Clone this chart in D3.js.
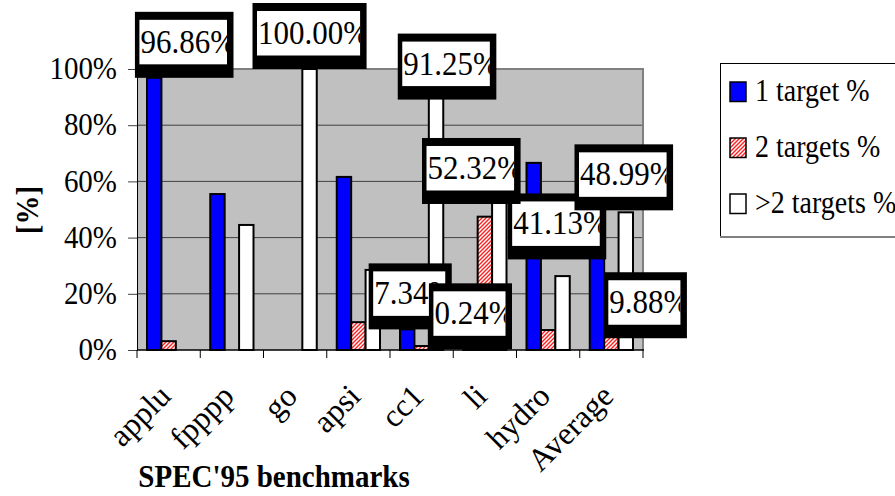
<!DOCTYPE html>
<html>
<head>
<meta charset="utf-8">
<script src="https://cdn.jsdelivr.net/npm/d3@7"></script>
<style>
  body { margin: 0; background: #fff; }
  text { font-family: "Liberation Serif", "Times New Roman", serif; fill: #000; }
</style>
</head>
<body>
<svg id="chart" width="895" height="496"></svg>
<script>
// Share of branches by number of targets, per SPEC'95 benchmark
const categories = ["applu", "fpppp", "go", "apsi", "cc1", "li", "hydro", "Average"];
const seriesNames = ["1 target %", "2 targets %", ">2 targets %"];
const oneTarget   = [96.86, 55.5, 0, 61.6, 7.34, 0.24, 66.6, 41.13];
const twoTargets  = [3.14, 0, 0, 9.9, 1.41, 47.44, 7.1, 9.88];
const moreTargets = [0, 44.5, 100.00, 28.5, 91.25, 52.32, 26.3, 48.99];
const yTicks = [0, 20, 40, 60, 80, 100];

// bars that carry a value callout, and how far each callout was dragged
const valueLabels = [
  { s: 0, c: "applu",   dx: 30,  dy: 0 },
  { s: 0, c: "cc1",     dx: 3,   dy: 0 },
  { s: 0, c: "li",      dx: 0,   dy: 0 },
  { s: 0, c: "Average", dx: -40, dy: 25 },
  { s: 1, c: "Average", dx: 34,  dy: 16 },
  { s: 2, c: "go",      dx: 0,   dy: 0 },
  { s: 2, c: "cc1",     dx: 11,  dy: 6 },
  { s: 2, c: "li",      dx: -28, dy: 1 },
  { s: 2, c: "Average", dx: -2,  dy: -2 }
];

const series = [oneTarget, twoTargets, moreTargets];
const fills = ["#0000ff", "url(#hatch)", "#ffffff"];
const stretch = "scale(1,1.12)";

const svg = d3.select("#chart");
const plot = { left: 137, right: 643, top: 69, bottom: 350 };

const x = d3.scaleBand().domain(categories).range([plot.left, plot.right]);
const xs = d3.scaleBand().domain([0, 1, 2]).range([10, x.bandwidth() - 10]);
const y = d3.scaleLinear().domain([0, 100]).range([plot.bottom, plot.top]);

// red/white hatch used for the "2 targets" series
const defs = svg.append("defs");
const pat = defs.append("pattern").attr("id", "hatch")
  .attr("patternUnits", "userSpaceOnUse").attr("width", 4).attr("height", 4);
pat.append("rect").attr("width", 4).attr("height", 4).attr("fill", "#fff");
pat.append("path").attr("d", "M-1,1 L1,-1 M0,4 L4,0 M3,5 L5,3")
  .attr("stroke", "#ff2020").attr("stroke-width", 1.4);

// plot background and grid
svg.append("rect")
  .attr("x", plot.left).attr("y", plot.top)
  .attr("width", plot.right - plot.left).attr("height", plot.bottom - plot.top)
  .attr("fill", "#c0c0c0");

svg.append("g").selectAll("line")
  .data(yTicks.filter(d => d > 0 && d < 100))
  .join("line")
  .attr("x1", plot.left).attr("x2", plot.right)
  .attr("y1", d => y(d)).attr("y2", d => y(d))
  .attr("stroke", "#404040").attr("stroke-width", 1);

svg.append("path")
  .attr("d", `M${plot.left},${plot.top}H${plot.right}V${plot.bottom}`)
  .attr("fill", "none").attr("stroke", "#808080").attr("stroke-width", 2);

// bars
const barGroups = svg.append("g").selectAll("g")
  .data(series)
  .join("g")
  .attr("fill", (d, i) => fills[i]);

barGroups.each(function (vals, s) {
  d3.select(this).selectAll("rect")
    .data(categories.map((c, i) => ({ c, v: vals[i] })).filter(d => d.v > 0))
    .join("rect")
    .attr("x", d => x(d.c) + xs(s))
    .attr("width", xs.bandwidth())
    .attr("y", d => y(d.v))
    .attr("height", d => y(0) - y(d.v))
    .attr("stroke", "#000").attr("stroke-width", 2);
});

// y axis
const yAxis = d3.axisLeft(y).tickValues(yTicks).tickFormat(d => d + "%")
  .tickSize(9).tickSizeOuter(0).tickPadding(11);
const gy = svg.append("g").attr("transform", `translate(${plot.left},0)`).call(yAxis);
gy.attr("font-family", null);
gy.select(".domain").attr("stroke", "#000");
gy.selectAll(".tick line").attr("stroke", "#404040");
gy.selectAll(".tick text")
  .attr("font-size", 29)
  .attr("dy", "0.3em").attr("transform", stretch);

// x axis: ticks sit on the category boundaries
svg.append("line")
  .attr("x1", plot.left).attr("x2", plot.right + 1)
  .attr("y1", plot.bottom).attr("y2", plot.bottom)
  .attr("stroke", "#000").attr("stroke-width", 1.5);
svg.append("g").selectAll("line")
  .data(categories.map(c => x(c)).concat([plot.right]))
  .join("line")
  .attr("x1", d => d).attr("x2", d => d)
  .attr("y1", plot.bottom).attr("y2", plot.bottom + 8)
  .attr("stroke", "#000");

svg.append("g").selectAll("text")
  .data(categories)
  .join("text")
  .attr("text-anchor", "end")
  .attr("font-size", 32)
  .attr("transform", d => `translate(${x(d) + x.bandwidth() / 2 + 4},${plot.bottom + 48}) rotate(-45)`)
  .text(d => d);

// axis titles
svg.append("text")
  .attr("text-anchor", "middle").attr("font-size", 29).attr("font-weight", "bold")
  .attr("transform", `translate(274,487) ${stretch}`)
  .text("SPEC'95 benchmarks");

svg.append("text")
  .attr("text-anchor", "middle").attr("font-size", 29).attr("font-weight", "bold")
  .attr("transform", `translate(38,210) rotate(-90) ${stretch}`)
  .text("[%]");

// value callouts: white box inside a heavy black frame, text clipped to the box
const calloutLayer = svg.append("g");
const innerH = 44.5, padL = 4.5, padR = 6.5, padT = 8, padB = 13.5;
valueLabels.forEach((lab, k) => {
  const i = categories.indexOf(lab.c);
  const v = series[lab.s][i];
  const cx = x(lab.c) + xs(lab.s) + xs.bandwidth() / 2 + lab.dx;
  const bottom = y(v) + lab.dy;
  const g = calloutLayer.append("g");
  const frame = g.append("rect").attr("fill", "#000");
  const inner = g.append("rect").attr("fill", "#fff");
  const clip = defs.append("clipPath").attr("id", "clip" + k).append("rect");
  const t = g.append("text").attr("font-size", 31)
    .attr("clip-path", `url(#clip${k})`)
    .text(v.toFixed(2) + "%");
  const w = t.node().getComputedTextLength() - 8;
  const outerW = w + padL + padR;
  const outerH = innerH + padT + padB;
  const left = cx - outerW / 2, top = bottom - outerH;
  frame.attr("x", left).attr("y", top).attr("width", outerW).attr("height", outerH);
  inner.attr("x", left + padL).attr("y", top + padT).attr("width", w).attr("height", innerH);
  clip.attr("x", 0).attr("y", -40).attr("width", w - 1).attr("height", innerH + 10);
  t.attr("transform", `translate(${left + padL + 1},${top + padT + 33}) ${stretch}`);
});

// legend
const legend = svg.append("g");
legend.append("rect")
  .attr("x", 720.5).attr("y", 63.5).attr("width", 200).attr("height", 173)
  .attr("fill", "#fff").attr("stroke", "#000").attr("stroke-width", 1);
legend.append("line")
  .attr("x1", 720).attr("x2", 895).attr("y1", 237).attr("y2", 237)
  .attr("stroke", "#808080").attr("stroke-width", 2);
const rows = legend.selectAll("g.row")
  .data(seriesNames)
  .join("g").attr("class", "row")
  .attr("transform", (d, i) => `translate(0,${82 + i * 56})`);
rows.append("rect")
  .attr("x", 730).attr("y", 0).attr("width", 16).attr("height", 19.5)
  .attr("fill", (d, i) => fills[i]).attr("stroke", "#000").attr("stroke-width", 1.5);
rows.append("text")
  .attr("font-size", 28)
  .attr("transform", `translate(755,18.5) ${stretch}`)
  .text(d => d);
</script>
</body>
</html>
